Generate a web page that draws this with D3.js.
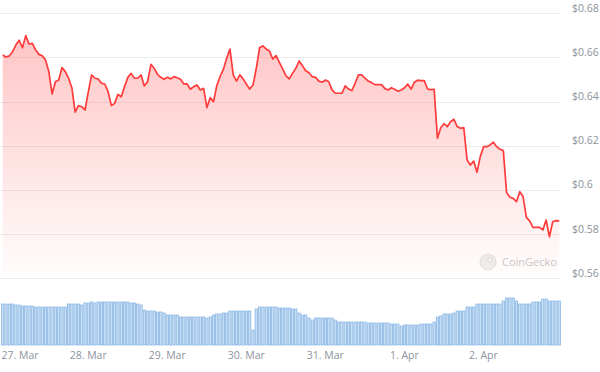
<!DOCTYPE html>
<html>
<head>
<meta charset="utf-8">
<script src="https://cdn.jsdelivr.net/npm/d3@7"></script>
<style>
  body { margin: 0; background: #fff; }
  #chart text { font-family: "Open Sans", sans-serif; }
</style>
</head>
<body>
<div id="chart"></div>
<script>
// Hourly prices (USD)
var prices = [
	0.6611, 0.6602, 0.6607, 0.6626, 0.6656, 0.6678, 0.6644, 0.6699, 0.6661, 0.6664,
	0.6634, 0.6614, 0.6608, 0.6589, 0.6536, 0.6435, 0.6490, 0.6498, 0.6554, 0.6536,
	0.6506, 0.6463, 0.6352, 0.6382, 0.6377, 0.6362, 0.6445, 0.6521, 0.6506, 0.6503,
	0.6483,
	0.6480, 0.6445, 0.6382, 0.6392, 0.6433, 0.6422, 0.6468, 0.6510, 0.6528, 0.6506,
	0.6506, 0.6521, 0.6471, 0.6490, 0.6569, 0.6551, 0.6524, 0.6510, 0.6501, 0.6510,
	0.6503, 0.6513, 0.6508, 0.6501, 0.6480, 0.6480, 0.6456, 0.6468, 0.6475, 0.6453,
	0.6460, 0.6373, 0.6418, 0.6400, 0.6472, 0.6513, 0.6546, 0.6596, 0.6638, 0.6521,
	0.6493, 0.6521, 0.6503, 0.6479, 0.6457, 0.6475, 0.6551, 0.6644, 0.6653, 0.6638,
	0.6629, 0.6593, 0.6608, 0.6578, 0.6548, 0.6517, 0.6503, 0.6528, 0.6551, 0.6584,
	0.6563,
	0.6540, 0.6531, 0.6513, 0.6510, 0.6493, 0.6488, 0.6498, 0.6490, 0.6453, 0.6438,
	0.6438, 0.6438, 0.6471, 0.6457, 0.6450, 0.6483, 0.6521, 0.6521, 0.6506, 0.6493,
	0.6486, 0.6477, 0.6477, 0.6477, 0.6460, 0.6453, 0.6463, 0.6456, 0.6447, 0.6453,
	0.6463, 0.6479, 0.6457, 0.6488, 0.6497, 0.6495, 0.6495, 0.6457, 0.6454, 0.6456,
	0.6234, 0.6282, 0.6300, 0.6287, 0.6309, 0.6320, 0.6287, 0.6279, 0.6282, 0.6136,
	0.6113, 0.6131, 0.6080, 0.6151, 0.6196, 0.6196, 0.6204, 0.6216, 0.6196,
	0.6184, 0.6178, 0.5988, 0.5967, 0.5962, 0.5947, 0.5992, 0.5970, 0.5876, 0.5860,
	0.5831, 0.5831, 0.5831, 0.5819, 0.5864, 0.5788, 0.5856, 0.5861, 0.5860
];

// Hourly volume (millions USD)
var volumes = [
	41, 41, 41, 41, 40, 40, 39, 39, 39, 39,
	38, 38, 38, 38, 38, 38, 38, 38, 38, 38,
	41, 41, 41, 41, 40, 42, 42, 43, 42, 43,
	43, 43, 43, 43, 43, 43, 43, 43, 43, 42,
	42, 41, 40, 35, 34, 34, 34, 33, 33, 32,
	30, 30, 30, 30, 28, 28, 28, 28, 28, 28,
	28, 28, 27, 28, 30, 31, 31, 32, 32, 34,
	34, 34, 34, 34, 34, 34, 15, 36, 38, 38,
	38, 38, 38, 38, 37, 37, 37, 37, 36, 36,
	32, 30, 30, 27, 25, 27, 27, 27, 27, 27,
	27, 25, 23, 23, 23, 23, 23, 23, 23, 23,
	23, 22, 22, 22, 22, 22, 22, 22, 21, 21,
	21, 19, 20, 20, 20, 20, 20, 21, 21, 21,
	21, 23, 28, 29, 31, 31, 31, 32, 34, 34,
	34, 38, 38, 38, 41, 41, 41, 41, 41, 41,
	41, 41, 44, 47, 47, 47, 44, 41, 41, 41,
	41, 43, 43, 43, 46, 46, 44, 44, 44, 44
];

var priceTicks = [0.56, 0.58, 0.60, 0.62, 0.64, 0.66, 0.68];
var startTime = Date.UTC(2024, 2, 26, 22, 12);

var width = 600,
	height = 372,
	plotLeft = 2.7,
	plotRight = 559.3,
	gridRight = 561,
	priceTop = 13.3,
	priceBottom = 278.3,
	volTop = 295,
	volBottom = 345;

var data = prices.map(function(p, i) {
	return { date: new Date(startTime + i * 3600e3), price: p, volume: volumes[i] };
});

var x = d3.scaleUtc()
	.domain([data[0].date, data[data.length - 1].date])
	.range([plotLeft, plotRight]);

var y = d3.scaleLinear()
	.domain([0.56, 0.68])
	.range([priceBottom, priceTop]);

var yVol = d3.scaleLinear()
	.domain([0, 50])
	.range([volBottom, volTop]);

var svg = d3.select("#chart").append("svg")
	.attr("width", width)
	.attr("height", height);

// gradient under the line
var grad = svg.append("defs").append("linearGradient")
	.attr("id", "areaGrad")
	.attr("gradientUnits", "userSpaceOnUse")
	.attr("x1", 0).attr("x2", 0)
	.attr("y1", y(d3.max(prices))).attr("y2", priceBottom);
grad.append("stop").attr("offset", 0).attr("stop-color", "#ff4040").attr("stop-opacity", 0.3);
grad.append("stop").attr("offset", 1).attr("stop-color", "#ff4040").attr("stop-opacity", 0.01);

// Grid lines
svg.append("g")
	.selectAll("line")
	.data(priceTicks)
	.enter().append("line")
	.attr("x1", 0)
	.attr("x2", gridRight)
	.attr("y1", function(d) { return Math.round(y(d)) + 0.5; })
	.attr("y2", function(d) { return Math.round(y(d)) + 0.5; })
	.attr("stroke", "#ececec")
	.attr("stroke-width", 1);

// price labels on the right
svg.append("g")
	.selectAll("text")
	.data(priceTicks)
	.enter().append("text")
	.attr("x", 572)
	.attr("y", function(d) { return y(d) - 1.5; })
	.attr("fill", "#8c939d")
	.attr("font-size", "10.5px")
	.text(function(d) { return "$" + d3.format("")(+d.toFixed(2)); });

// Watermark
var wm = svg.append("g").attr("transform", "translate(488,262)");
wm.append("circle").attr("r", 8).attr("fill", "#f0f0f0").attr("stroke", "#e2e2e2");
wm.append("circle").attr("cx", 2).attr("cy", -2).attr("r", 2.2).attr("fill", "#fff").attr("stroke", "#d8d8d8");
wm.append("text")
	.attr("x", 14)
	.attr("y", 4)
	.attr("fill", "#c9c9c9")
	.attr("font-size", "11px")
	.text("CoinGecko");

// Area + line
var area = d3.area()
	.x(function(d) { return x(d.date); })
	.y0(priceBottom)
	.y1(function(d) { return y(d.price); });

var line = d3.line()
	.x(function(d) { return x(d.date); })
	.y(function(d) { return y(d.price); });

svg.append("path")
	.datum(data)
	.attr("d", area)
	.attr("fill", "url(#areaGrad)");

svg.append("path")
	.datum(data)
	.attr("d", line)
	.attr("fill", "none")
	.attr("stroke", "#ff3b3b")
	.attr("stroke-width", 1.7)
	.attr("stroke-linejoin", "round");

// Volume bars
var barW = (x(data[1].date) - x(data[0].date)) * 0.7;
svg.append("g")
	.selectAll("rect")
	.data(data)
	.enter().append("rect")
	.attr("x", function(d) { return x(d.date) - barW / 2; })
	.attr("y", function(d) { return yVol(d.volume); })
	.attr("width", barW)
	.attr("height", function(d) { return volBottom - yVol(d.volume); })
	.attr("fill", "#c9def3")
	.attr("stroke", "#7eb0e3")
	.attr("stroke-width", 0.7);

// Date axis
var xAxis = d3.axisBottom(x)
	.ticks(d3.utcDay.every(1))
	.tickFormat(d3.utcFormat("%-d. %b"))
	.tickSize(0)
	.tickPadding(0);

var gx = svg.append("g")
	.attr("transform", "translate(0," + 352 + ")")
	.call(xAxis);
gx.select(".domain").remove();
gx.selectAll("text")
	.attr("fill", "#8c939d")
	.attr("font-size", "10.5px")
	.attr("font-family", "Open Sans, sans-serif")
	.attr("dy", "0.71em");
// first label pushed inside like the original
gx.selectAll(".tick").filter(function(d, i) { return i === 0; })
	.select("text")
	.attr("text-anchor", "start")
	.attr("x", 1 - x(d3.utcDay.ceil(data[0].date)));
</script>
</body>
</html>
